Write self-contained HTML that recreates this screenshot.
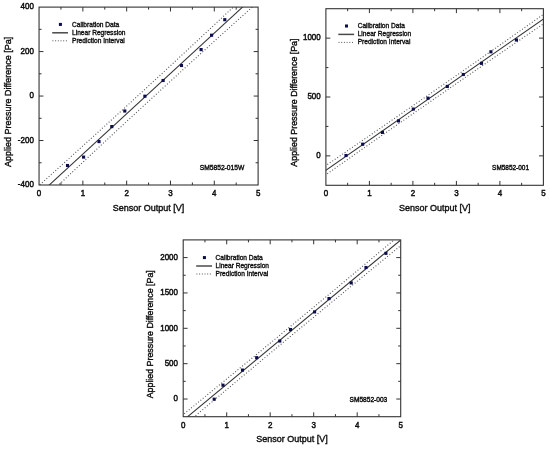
<!DOCTYPE html>
<html><head><meta charset="utf-8"><style>
html,body{margin:0;padding:0;background:#fff;}
svg{display:block;}
text{font-family:"Liberation Sans", Arial, Helvetica, sans-serif;fill:#111;stroke:#111;stroke-width:0.3px;}
.ax{stroke-width:0.4px;}
.lg{stroke-width:0.35px;}
.nm{stroke-width:0.4px;}
.tk{stroke-width:0.45px;}
</style></head><body>
<svg width="550" height="449" viewBox="0 0 550 449">
<defs><filter id="soft" filterUnits="userSpaceOnUse" x="0" y="0" width="550" height="449"><feGaussianBlur stdDeviation="0.4"/></filter></defs>
<rect width="550" height="449" fill="#fff"/>
<g filter="url(#soft)">
<clipPath id="c0"><rect x="39.05" y="7.1" width="219.05" height="177.9"/></clipPath>
<g clip-path="url(#c0)">
<line x1="33.05" y1="199.93" x2="264.1" y2="-12.74" stroke="#333" stroke-width="1.05"/>
<polyline points="33.05,209.03 35.94,206.31 38.83,203.59 41.71,200.86 44.6,198.14 47.49,195.42 50.38,192.7 53.27,189.99 56.16,187.27 59.04,184.56 61.93,181.84 64.82,179.13 67.71,176.42 70.6,173.72 73.48,171.01 76.37,168.3 79.26,165.6 82.15,162.9 85.04,160.2 87.92,157.5 90.81,154.8 93.7,152.11 96.59,149.41 99.48,146.72 102.37,144.03 105.25,141.35 108.14,138.66 111.03,135.98 113.92,133.29 116.81,130.61 119.69,127.94 122.58,125.26 125.47,122.59 128.36,119.91 131.25,117.24 134.13,114.58 137.02,111.91 139.91,109.25 142.8,106.58 145.69,103.92 148.57,101.26 151.46,98.61 154.35,95.95 157.24,93.3 160.13,90.65 163.02,88 165.9,85.36 168.79,82.71 171.68,80.07 174.57,77.43 177.46,74.79 180.34,72.16 183.23,69.52 186.12,66.89 189.01,64.26 191.9,61.63 194.79,59.01 197.67,56.38 200.56,53.76 203.45,51.14 206.34,48.52 209.23,45.9 212.11,43.28 215,40.67 217.89,38.05 220.78,35.44 223.67,32.83 226.55,30.22 229.44,27.62 232.33,25.01 235.22,22.41 238.11,19.81 241,17.21 243.88,14.61 246.77,12.01 249.66,9.41 252.55,6.82 255.44,4.22 258.32,1.63 261.21,-0.96 264.1,-3.55" fill="none" stroke="#555" stroke-width="1.1" stroke-dasharray="1 2"/>
<polyline points="33.05,190.82 35.94,188.23 38.83,185.64 41.71,183.04 44.6,180.45 47.49,177.85 50.38,175.25 53.27,172.65 56.16,170.05 59.04,167.45 61.93,164.85 64.82,162.24 67.71,159.63 70.6,157.02 73.48,154.41 76.37,151.8 79.26,149.19 82.15,146.57 85.04,143.96 87.92,141.34 90.81,138.72 93.7,136.1 96.59,133.47 99.48,130.85 102.37,128.22 105.25,125.59 108.14,122.96 111.03,120.33 113.92,117.69 116.81,115.06 119.69,112.42 122.58,109.78 125.47,107.13 128.36,104.49 131.25,101.84 134.13,99.19 137.02,96.54 139.91,93.89 142.8,91.24 145.69,88.58 148.57,85.92 151.46,83.26 154.35,80.6 157.24,77.93 160.13,75.26 163.02,72.6 165.9,69.93 168.79,67.25 171.68,64.58 174.57,61.9 177.46,59.22 180.34,56.54 183.23,53.86 186.12,51.17 189.01,48.49 191.9,45.8 194.79,43.11 197.67,40.42 200.56,37.72 203.45,35.03 206.34,32.33 209.23,29.63 212.11,26.93 215,24.23 217.89,21.53 220.78,18.82 223.67,16.11 226.55,13.4 229.44,10.69 232.33,7.98 235.22,5.27 238.11,2.55 241,-0.16 243.88,-2.88 246.77,-5.6 249.66,-8.32 252.55,-11.04 255.44,-13.76 258.32,-16.49 261.21,-19.21 264.1,-21.94" fill="none" stroke="#555" stroke-width="1.1" stroke-dasharray="1 2"/>
</g>
<rect x="39.05" y="7.1" width="219.05" height="177.9" fill="none" stroke="#333" stroke-width="1.1"/>
<text transform="translate(39.05,196) scale(1,1.1)" text-anchor="middle" font-size="8" class="tk">0</text>
<line x1="60.95" y1="185" x2="60.95" y2="182.5" stroke="#333" stroke-width="1"/>
<line x1="60.95" y1="7.1" x2="60.95" y2="9.6" stroke="#333" stroke-width="1"/>
<line x1="82.86" y1="185" x2="82.86" y2="180.6" stroke="#333" stroke-width="1"/>
<line x1="82.86" y1="7.1" x2="82.86" y2="11.5" stroke="#333" stroke-width="1"/>
<text transform="translate(82.86,196) scale(1,1.1)" text-anchor="middle" font-size="8" class="tk">1</text>
<line x1="104.77" y1="185" x2="104.77" y2="182.5" stroke="#333" stroke-width="1"/>
<line x1="104.77" y1="7.1" x2="104.77" y2="9.6" stroke="#333" stroke-width="1"/>
<line x1="126.67" y1="185" x2="126.67" y2="180.6" stroke="#333" stroke-width="1"/>
<line x1="126.67" y1="7.1" x2="126.67" y2="11.5" stroke="#333" stroke-width="1"/>
<text transform="translate(126.67,196) scale(1,1.1)" text-anchor="middle" font-size="8" class="tk">2</text>
<line x1="148.57" y1="185" x2="148.57" y2="182.5" stroke="#333" stroke-width="1"/>
<line x1="148.57" y1="7.1" x2="148.57" y2="9.6" stroke="#333" stroke-width="1"/>
<line x1="170.48" y1="185" x2="170.48" y2="180.6" stroke="#333" stroke-width="1"/>
<line x1="170.48" y1="7.1" x2="170.48" y2="11.5" stroke="#333" stroke-width="1"/>
<text transform="translate(170.48,196) scale(1,1.1)" text-anchor="middle" font-size="8" class="tk">3</text>
<line x1="192.38" y1="185" x2="192.38" y2="182.5" stroke="#333" stroke-width="1"/>
<line x1="192.38" y1="7.1" x2="192.38" y2="9.6" stroke="#333" stroke-width="1"/>
<line x1="214.29" y1="185" x2="214.29" y2="180.6" stroke="#333" stroke-width="1"/>
<line x1="214.29" y1="7.1" x2="214.29" y2="11.5" stroke="#333" stroke-width="1"/>
<text transform="translate(214.29,196) scale(1,1.1)" text-anchor="middle" font-size="8" class="tk">4</text>
<line x1="236.19" y1="185" x2="236.19" y2="182.5" stroke="#333" stroke-width="1"/>
<line x1="236.19" y1="7.1" x2="236.19" y2="9.6" stroke="#333" stroke-width="1"/>
<text transform="translate(258.1,196) scale(1,1.1)" text-anchor="middle" font-size="8" class="tk">5</text>
<text transform="translate(33.85,187.3) scale(1,1.1)" text-anchor="end" font-size="8" class="tk">-400</text>
<line x1="39.05" y1="162.76" x2="41.55" y2="162.76" stroke="#333" stroke-width="1"/>
<line x1="258.1" y1="162.76" x2="255.6" y2="162.76" stroke="#333" stroke-width="1"/>
<line x1="39.05" y1="140.53" x2="43.45" y2="140.53" stroke="#333" stroke-width="1"/>
<line x1="258.1" y1="140.53" x2="253.7" y2="140.53" stroke="#333" stroke-width="1"/>
<text transform="translate(33.85,142.83) scale(1,1.1)" text-anchor="end" font-size="8" class="tk">-200</text>
<line x1="39.05" y1="118.29" x2="41.55" y2="118.29" stroke="#333" stroke-width="1"/>
<line x1="258.1" y1="118.29" x2="255.6" y2="118.29" stroke="#333" stroke-width="1"/>
<line x1="39.05" y1="96.05" x2="43.45" y2="96.05" stroke="#333" stroke-width="1"/>
<line x1="258.1" y1="96.05" x2="253.7" y2="96.05" stroke="#333" stroke-width="1"/>
<text transform="translate(33.85,98.35) scale(1,1.1)" text-anchor="end" font-size="8" class="tk">0</text>
<line x1="39.05" y1="73.81" x2="41.55" y2="73.81" stroke="#333" stroke-width="1"/>
<line x1="258.1" y1="73.81" x2="255.6" y2="73.81" stroke="#333" stroke-width="1"/>
<line x1="39.05" y1="51.57" x2="43.45" y2="51.57" stroke="#333" stroke-width="1"/>
<line x1="258.1" y1="51.57" x2="253.7" y2="51.57" stroke="#333" stroke-width="1"/>
<text transform="translate(33.85,53.87) scale(1,1.1)" text-anchor="end" font-size="8" class="tk">200</text>
<line x1="39.05" y1="29.34" x2="41.55" y2="29.34" stroke="#333" stroke-width="1"/>
<line x1="258.1" y1="29.34" x2="255.6" y2="29.34" stroke="#333" stroke-width="1"/>
<text transform="translate(33.85,9.4) scale(1,1.1)" text-anchor="end" font-size="8" class="tk">400</text>
<rect x="65.95" y="163.95" width="3.1" height="3.1" fill="#07074c"/>
<rect x="82.05" y="155.55" width="3.1" height="3.1" fill="#07074c"/>
<rect x="97.45" y="140.05" width="3.1" height="3.1" fill="#07074c"/>
<rect x="110.25" y="125.05" width="3.1" height="3.1" fill="#07074c"/>
<rect x="123.25" y="109.45" width="3.1" height="3.1" fill="#07074c"/>
<rect x="143.35" y="94.65" width="3.1" height="3.1" fill="#07074c"/>
<rect x="161.55" y="78.95" width="3.1" height="3.1" fill="#07074c"/>
<rect x="179.95" y="63.95" width="3.1" height="3.1" fill="#07074c"/>
<rect x="199.55" y="48.05" width="3.1" height="3.1" fill="#07074c"/>
<rect x="210.05" y="33.65" width="3.1" height="3.1" fill="#07074c"/>
<rect x="223.25" y="18.15" width="3.1" height="3.1" fill="#07074c"/>
<text transform="translate(148.58,210.9) scale(1,1.08)" text-anchor="middle" font-size="9" class="ax">Sensor Output [V]</text>
<text transform="rotate(-90)" x="-101.85" y="11.3" text-anchor="middle" font-size="9.0" class="ax">Applied Pressure Difference [Pa]</text>
<rect x="58.9" y="22.9" width="3" height="3" fill="#07074c"/>
<line x1="52.2" y1="32.8" x2="68" y2="32.8" stroke="#4a4a4a" stroke-width="1.5"/>
<line x1="52.4" y1="40.8" x2="67.6" y2="40.8" stroke="#555" stroke-width="1" stroke-dasharray="1 1.7"/>
<text x="72" y="26.8" font-size="6.6" class="lg">Calibration Data</text>
<text x="72" y="34.75" font-size="6.6" class="lg">Linear Regression</text>
<text x="72" y="42.7" font-size="6.6" class="lg">Prediction Interval</text>
<text x="199.7" y="169.7" font-size="6.7" class="nm">SM5852-015W</text>
<clipPath id="c1"><rect x="325.9" y="8.7" width="217.5" height="176.6"/></clipPath>
<g clip-path="url(#c1)">
<line x1="319.9" y1="174.31" x2="549.4" y2="14.97" stroke="#333" stroke-width="1.05"/>
<polyline points="319.9,179 322.77,176.98 325.64,174.95 328.51,172.93 331.38,170.91 334.24,168.89 337.11,166.87 339.98,164.84 342.85,162.83 345.72,160.81 348.59,158.79 351.46,156.77 354.32,154.76 357.19,152.74 360.06,150.72 362.93,148.71 365.8,146.7 368.67,144.68 371.54,142.67 374.41,140.66 377.27,138.65 380.14,136.64 383.01,134.64 385.88,132.63 388.75,130.62 391.62,128.62 394.49,126.61 397.36,124.61 400.22,122.61 403.09,120.61 405.96,118.61 408.83,116.61 411.7,114.61 414.57,112.61 417.44,110.61 420.31,108.62 423.17,106.62 426.04,104.63 428.91,102.64 431.78,100.64 434.65,98.65 437.52,96.66 440.39,94.68 443.26,92.69 446.12,90.7 448.99,88.72 451.86,86.73 454.73,84.75 457.6,82.76 460.47,80.78 463.34,78.8 466.21,76.82 469.07,74.84 471.94,72.87 474.81,70.89 477.68,68.91 480.55,66.94 483.42,64.96 486.29,62.99 489.16,61.02 492.02,59.04 494.89,57.07 497.76,55.1 500.63,53.13 503.5,51.17 506.37,49.2 509.24,47.23 512.11,45.27 514.97,43.3 517.84,41.34 520.71,39.37 523.58,37.41 526.45,35.45 529.32,33.48 532.19,31.52 535.06,29.56 537.92,27.6 540.79,25.64 543.66,23.69 546.53,21.73 549.4,19.77" fill="none" stroke="#555" stroke-width="1.1" stroke-dasharray="1 2"/>
<polyline points="319.9,169.61 322.77,167.65 325.64,165.69 328.51,163.73 331.38,161.77 334.24,159.81 337.11,157.84 339.98,155.88 342.85,153.92 345.72,151.95 348.59,149.99 351.46,148.02 354.32,146.05 357.19,144.09 360.06,142.12 362.93,140.15 365.8,138.18 368.67,136.21 371.54,134.23 374.41,132.26 377.27,130.29 380.14,128.31 383.01,126.34 385.88,124.36 388.75,122.38 391.62,120.41 394.49,118.43 397.36,116.45 400.22,114.47 403.09,112.48 405.96,110.5 408.83,108.52 411.7,106.53 414.57,104.55 417.44,102.56 420.31,100.57 423.17,98.58 426.04,96.59 428.91,94.6 431.78,92.61 434.65,90.62 437.52,88.62 440.39,86.63 443.26,84.63 446.12,82.64 448.99,80.64 451.86,78.64 454.73,76.64 457.6,74.64 460.47,72.64 463.34,70.63 466.21,68.63 469.07,66.63 471.94,64.62 474.81,62.61 477.68,60.61 480.55,58.6 483.42,56.59 486.29,54.58 489.16,52.57 492.02,50.56 494.89,48.55 497.76,46.53 500.63,44.52 503.5,42.5 506.37,40.49 509.24,38.47 512.11,36.45 514.97,34.43 517.84,32.42 520.71,30.4 523.58,28.38 526.45,26.35 529.32,24.33 532.19,22.31 535.06,20.29 537.92,18.26 540.79,16.24 543.66,14.21 546.53,12.19 549.4,10.16" fill="none" stroke="#555" stroke-width="1.1" stroke-dasharray="1 2"/>
</g>
<rect x="325.9" y="8.7" width="217.5" height="176.6" fill="none" stroke="#333" stroke-width="1.1"/>
<text transform="translate(325.9,196.3) scale(1,1.1)" text-anchor="middle" font-size="8" class="tk">0</text>
<line x1="347.65" y1="185.3" x2="347.65" y2="182.8" stroke="#333" stroke-width="1"/>
<line x1="347.65" y1="8.7" x2="347.65" y2="11.2" stroke="#333" stroke-width="1"/>
<line x1="369.4" y1="185.3" x2="369.4" y2="180.9" stroke="#333" stroke-width="1"/>
<line x1="369.4" y1="8.7" x2="369.4" y2="13.1" stroke="#333" stroke-width="1"/>
<text transform="translate(369.4,196.3) scale(1,1.1)" text-anchor="middle" font-size="8" class="tk">1</text>
<line x1="391.15" y1="185.3" x2="391.15" y2="182.8" stroke="#333" stroke-width="1"/>
<line x1="391.15" y1="8.7" x2="391.15" y2="11.2" stroke="#333" stroke-width="1"/>
<line x1="412.9" y1="185.3" x2="412.9" y2="180.9" stroke="#333" stroke-width="1"/>
<line x1="412.9" y1="8.7" x2="412.9" y2="13.1" stroke="#333" stroke-width="1"/>
<text transform="translate(412.9,196.3) scale(1,1.1)" text-anchor="middle" font-size="8" class="tk">2</text>
<line x1="434.65" y1="185.3" x2="434.65" y2="182.8" stroke="#333" stroke-width="1"/>
<line x1="434.65" y1="8.7" x2="434.65" y2="11.2" stroke="#333" stroke-width="1"/>
<line x1="456.4" y1="185.3" x2="456.4" y2="180.9" stroke="#333" stroke-width="1"/>
<line x1="456.4" y1="8.7" x2="456.4" y2="13.1" stroke="#333" stroke-width="1"/>
<text transform="translate(456.4,196.3) scale(1,1.1)" text-anchor="middle" font-size="8" class="tk">3</text>
<line x1="478.15" y1="185.3" x2="478.15" y2="182.8" stroke="#333" stroke-width="1"/>
<line x1="478.15" y1="8.7" x2="478.15" y2="11.2" stroke="#333" stroke-width="1"/>
<line x1="499.9" y1="185.3" x2="499.9" y2="180.9" stroke="#333" stroke-width="1"/>
<line x1="499.9" y1="8.7" x2="499.9" y2="13.1" stroke="#333" stroke-width="1"/>
<text transform="translate(499.9,196.3) scale(1,1.1)" text-anchor="middle" font-size="8" class="tk">4</text>
<line x1="521.65" y1="185.3" x2="521.65" y2="182.8" stroke="#333" stroke-width="1"/>
<line x1="521.65" y1="8.7" x2="521.65" y2="11.2" stroke="#333" stroke-width="1"/>
<text transform="translate(543.4,196.3) scale(1,1.1)" text-anchor="middle" font-size="8" class="tk">5</text>
<line x1="325.9" y1="155.87" x2="330.3" y2="155.87" stroke="#333" stroke-width="1"/>
<line x1="543.4" y1="155.87" x2="539" y2="155.87" stroke="#333" stroke-width="1"/>
<text transform="translate(320.7,158.17) scale(1,1.1)" text-anchor="end" font-size="8" class="tk">0</text>
<line x1="325.9" y1="126.43" x2="328.4" y2="126.43" stroke="#333" stroke-width="1"/>
<line x1="543.4" y1="126.43" x2="540.9" y2="126.43" stroke="#333" stroke-width="1"/>
<line x1="325.9" y1="97" x2="330.3" y2="97" stroke="#333" stroke-width="1"/>
<line x1="543.4" y1="97" x2="539" y2="97" stroke="#333" stroke-width="1"/>
<text transform="translate(320.7,99.3) scale(1,1.1)" text-anchor="end" font-size="8" class="tk">500</text>
<line x1="325.9" y1="67.57" x2="328.4" y2="67.57" stroke="#333" stroke-width="1"/>
<line x1="543.4" y1="67.57" x2="540.9" y2="67.57" stroke="#333" stroke-width="1"/>
<line x1="325.9" y1="38.13" x2="330.3" y2="38.13" stroke="#333" stroke-width="1"/>
<line x1="543.4" y1="38.13" x2="539" y2="38.13" stroke="#333" stroke-width="1"/>
<text transform="translate(320.7,40.43) scale(1,1.1)" text-anchor="end" font-size="8" class="tk">1000</text>
<rect x="344.45" y="153.95" width="3.1" height="3.1" fill="#07074c"/>
<rect x="361.15" y="142.65" width="3.1" height="3.1" fill="#07074c"/>
<rect x="380.85" y="130.85" width="3.1" height="3.1" fill="#07074c"/>
<rect x="396.95" y="119.35" width="3.1" height="3.1" fill="#07074c"/>
<rect x="411.75" y="107.55" width="3.1" height="3.1" fill="#07074c"/>
<rect x="426.45" y="96.65" width="3.1" height="3.1" fill="#07074c"/>
<rect x="445.75" y="84.85" width="3.1" height="3.1" fill="#07074c"/>
<rect x="461.75" y="72.95" width="3.1" height="3.1" fill="#07074c"/>
<rect x="479.95" y="61.75" width="3.1" height="3.1" fill="#07074c"/>
<rect x="489.35" y="50.25" width="3.1" height="3.1" fill="#07074c"/>
<rect x="514.85" y="38.45" width="3.1" height="3.1" fill="#07074c"/>
<text transform="translate(434.65,211.1) scale(1,1.08)" text-anchor="middle" font-size="9" class="ax">Sensor Output [V]</text>
<text transform="rotate(-90)" x="-102.6" y="296.6" text-anchor="middle" font-size="8.85" class="ax">Applied Pressure Difference [Pa]</text>
<rect x="345" y="24.5" width="3" height="3" fill="#07074c"/>
<line x1="338.3" y1="34.4" x2="354.1" y2="34.4" stroke="#4a4a4a" stroke-width="1.5"/>
<line x1="338.5" y1="42.4" x2="353.7" y2="42.4" stroke="#555" stroke-width="1" stroke-dasharray="1 1.7"/>
<text x="357.7" y="28.4" font-size="6.6" class="lg">Calibration Data</text>
<text x="357.7" y="36.35" font-size="6.6" class="lg">Linear Regression</text>
<text x="357.7" y="44.3" font-size="6.6" class="lg">Prediction Interval</text>
<text x="492.1" y="169.6" font-size="6.45" class="nm">SM5852-001</text>
<clipPath id="c2"><rect x="183.2" y="239.9" width="217.5" height="176.8"/></clipPath>
<g clip-path="url(#c2)">
<line x1="177.2" y1="425.34" x2="406.7" y2="234.99" stroke="#333" stroke-width="1.05"/>
<polyline points="177.2,431.2 180.07,428.78 182.94,426.36 185.81,423.95 188.67,421.53 191.54,419.12 194.41,416.7 197.28,414.29 200.15,411.88 203.02,409.46 205.89,407.05 208.76,404.64 211.62,402.23 214.49,399.83 217.36,397.42 220.23,395.01 223.1,392.6 225.97,390.2 228.84,387.8 231.71,385.39 234.57,382.99 237.44,380.59 240.31,378.19 243.18,375.79 246.05,373.39 248.92,370.99 251.79,368.6 254.66,366.2 257.52,363.81 260.39,361.41 263.26,359.02 266.13,356.63 269,354.24 271.87,351.85 274.74,349.46 277.61,347.08 280.48,344.69 283.34,342.31 286.21,339.92 289.08,337.54 291.95,335.16 294.82,332.78 297.69,330.4 300.56,328.02 303.42,325.65 306.29,323.27 309.16,320.9 312.03,318.52 314.9,316.15 317.77,313.78 320.64,311.41 323.51,309.04 326.38,306.67 329.24,304.3 332.11,301.94 334.98,299.57 337.85,297.21 340.72,294.84 343.59,292.48 346.46,290.12 349.32,287.76 352.19,285.4 355.06,283.04 357.93,280.69 360.8,278.33 363.67,275.98 366.54,273.62 369.41,271.27 372.27,268.92 375.14,266.57 378.01,264.21 380.88,261.86 383.75,259.52 386.62,257.17 389.49,254.82 392.36,252.47 395.23,250.13 398.09,247.78 400.96,245.44 403.83,243.1 406.7,240.75" fill="none" stroke="#555" stroke-width="1.1" stroke-dasharray="1 2"/>
<polyline points="177.2,419.47 180.07,417.13 182.94,414.79 185.81,412.45 188.67,410.1 191.54,407.76 194.41,405.42 197.28,403.07 200.15,400.73 203.02,398.38 205.89,396.03 208.76,393.68 211.62,391.33 214.49,388.98 217.36,386.63 220.23,384.28 223.1,381.93 225.97,379.57 228.84,377.22 231.71,374.86 234.57,372.51 237.44,370.15 240.31,367.79 243.18,365.43 246.05,363.07 248.92,360.71 251.79,358.35 254.66,355.99 257.52,353.62 260.39,351.26 263.26,348.89 266.13,346.52 269,344.15 271.87,341.78 274.74,339.41 277.61,337.04 280.48,334.67 283.34,332.29 286.21,329.92 289.08,327.54 291.95,325.17 294.82,322.79 297.69,320.41 300.56,318.03 303.42,315.65 306.29,313.26 309.16,310.88 312.03,308.49 314.9,306.11 317.77,303.72 320.64,301.33 323.51,298.94 326.38,296.55 329.24,294.16 332.11,291.77 334.98,289.38 337.85,286.98 340.72,284.58 343.59,282.19 346.46,279.79 349.32,277.39 352.19,274.99 355.06,272.59 357.93,270.19 360.8,267.79 363.67,265.38 366.54,262.98 369.41,260.57 372.27,258.17 375.14,255.76 378.01,253.35 380.88,250.94 383.75,248.53 386.62,246.12 389.49,243.71 392.36,241.3 395.23,238.89 398.09,236.47 400.96,234.06 403.83,231.64 406.7,229.23" fill="none" stroke="#555" stroke-width="1.1" stroke-dasharray="1 2"/>
</g>
<rect x="183.2" y="239.9" width="217.5" height="176.8" fill="none" stroke="#333" stroke-width="1.1"/>
<text transform="translate(183.2,427.7) scale(1,1.1)" text-anchor="middle" font-size="8" class="tk">0</text>
<line x1="204.95" y1="416.7" x2="204.95" y2="414.2" stroke="#333" stroke-width="1"/>
<line x1="204.95" y1="239.9" x2="204.95" y2="242.4" stroke="#333" stroke-width="1"/>
<line x1="226.7" y1="416.7" x2="226.7" y2="412.3" stroke="#333" stroke-width="1"/>
<line x1="226.7" y1="239.9" x2="226.7" y2="244.3" stroke="#333" stroke-width="1"/>
<text transform="translate(226.7,427.7) scale(1,1.1)" text-anchor="middle" font-size="8" class="tk">1</text>
<line x1="248.45" y1="416.7" x2="248.45" y2="414.2" stroke="#333" stroke-width="1"/>
<line x1="248.45" y1="239.9" x2="248.45" y2="242.4" stroke="#333" stroke-width="1"/>
<line x1="270.2" y1="416.7" x2="270.2" y2="412.3" stroke="#333" stroke-width="1"/>
<line x1="270.2" y1="239.9" x2="270.2" y2="244.3" stroke="#333" stroke-width="1"/>
<text transform="translate(270.2,427.7) scale(1,1.1)" text-anchor="middle" font-size="8" class="tk">2</text>
<line x1="291.95" y1="416.7" x2="291.95" y2="414.2" stroke="#333" stroke-width="1"/>
<line x1="291.95" y1="239.9" x2="291.95" y2="242.4" stroke="#333" stroke-width="1"/>
<line x1="313.7" y1="416.7" x2="313.7" y2="412.3" stroke="#333" stroke-width="1"/>
<line x1="313.7" y1="239.9" x2="313.7" y2="244.3" stroke="#333" stroke-width="1"/>
<text transform="translate(313.7,427.7) scale(1,1.1)" text-anchor="middle" font-size="8" class="tk">3</text>
<line x1="335.45" y1="416.7" x2="335.45" y2="414.2" stroke="#333" stroke-width="1"/>
<line x1="335.45" y1="239.9" x2="335.45" y2="242.4" stroke="#333" stroke-width="1"/>
<line x1="357.2" y1="416.7" x2="357.2" y2="412.3" stroke="#333" stroke-width="1"/>
<line x1="357.2" y1="239.9" x2="357.2" y2="244.3" stroke="#333" stroke-width="1"/>
<text transform="translate(357.2,427.7) scale(1,1.1)" text-anchor="middle" font-size="8" class="tk">4</text>
<line x1="378.95" y1="416.7" x2="378.95" y2="414.2" stroke="#333" stroke-width="1"/>
<line x1="378.95" y1="239.9" x2="378.95" y2="242.4" stroke="#333" stroke-width="1"/>
<text transform="translate(400.7,427.7) scale(1,1.1)" text-anchor="middle" font-size="8" class="tk">5</text>
<line x1="183.2" y1="399.02" x2="187.6" y2="399.02" stroke="#333" stroke-width="1"/>
<line x1="400.7" y1="399.02" x2="396.3" y2="399.02" stroke="#333" stroke-width="1"/>
<text transform="translate(178,401.32) scale(1,1.1)" text-anchor="end" font-size="8" class="tk">0</text>
<line x1="183.2" y1="381.34" x2="185.7" y2="381.34" stroke="#333" stroke-width="1"/>
<line x1="400.7" y1="381.34" x2="398.2" y2="381.34" stroke="#333" stroke-width="1"/>
<line x1="183.2" y1="363.66" x2="187.6" y2="363.66" stroke="#333" stroke-width="1"/>
<line x1="400.7" y1="363.66" x2="396.3" y2="363.66" stroke="#333" stroke-width="1"/>
<text transform="translate(178,365.96) scale(1,1.1)" text-anchor="end" font-size="8" class="tk">500</text>
<line x1="183.2" y1="345.98" x2="185.7" y2="345.98" stroke="#333" stroke-width="1"/>
<line x1="400.7" y1="345.98" x2="398.2" y2="345.98" stroke="#333" stroke-width="1"/>
<line x1="183.2" y1="328.3" x2="187.6" y2="328.3" stroke="#333" stroke-width="1"/>
<line x1="400.7" y1="328.3" x2="396.3" y2="328.3" stroke="#333" stroke-width="1"/>
<text transform="translate(178,330.6) scale(1,1.1)" text-anchor="end" font-size="8" class="tk">1000</text>
<line x1="183.2" y1="310.62" x2="185.7" y2="310.62" stroke="#333" stroke-width="1"/>
<line x1="400.7" y1="310.62" x2="398.2" y2="310.62" stroke="#333" stroke-width="1"/>
<line x1="183.2" y1="292.94" x2="187.6" y2="292.94" stroke="#333" stroke-width="1"/>
<line x1="400.7" y1="292.94" x2="396.3" y2="292.94" stroke="#333" stroke-width="1"/>
<text transform="translate(178,295.24) scale(1,1.1)" text-anchor="end" font-size="8" class="tk">1500</text>
<line x1="183.2" y1="275.26" x2="185.7" y2="275.26" stroke="#333" stroke-width="1"/>
<line x1="400.7" y1="275.26" x2="398.2" y2="275.26" stroke="#333" stroke-width="1"/>
<line x1="183.2" y1="257.58" x2="187.6" y2="257.58" stroke="#333" stroke-width="1"/>
<line x1="400.7" y1="257.58" x2="396.3" y2="257.58" stroke="#333" stroke-width="1"/>
<text transform="translate(178,259.88) scale(1,1.1)" text-anchor="end" font-size="8" class="tk">2000</text>
<rect x="212.65" y="397.65" width="3.1" height="3.1" fill="#07074c"/>
<rect x="221.45" y="383.65" width="3.1" height="3.1" fill="#07074c"/>
<rect x="240.95" y="368.55" width="3.1" height="3.1" fill="#07074c"/>
<rect x="255.15" y="356.15" width="3.1" height="3.1" fill="#07074c"/>
<rect x="278.25" y="339.45" width="3.1" height="3.1" fill="#07074c"/>
<rect x="288.95" y="328.05" width="3.1" height="3.1" fill="#07074c"/>
<rect x="313.05" y="310.35" width="3.1" height="3.1" fill="#07074c"/>
<rect x="327.45" y="297.05" width="3.1" height="3.1" fill="#07074c"/>
<rect x="349.65" y="281.35" width="3.1" height="3.1" fill="#07074c"/>
<rect x="364.45" y="265.95" width="3.1" height="3.1" fill="#07074c"/>
<rect x="384.35" y="251.75" width="3.1" height="3.1" fill="#07074c"/>
<text transform="translate(291.95,442) scale(1,1.08)" text-anchor="middle" font-size="9" class="ax">Sensor Output [V]</text>
<text transform="rotate(-90)" x="-334.3" y="153.2" text-anchor="middle" font-size="8.85" class="ax">Applied Pressure Difference [Pa]</text>
<rect x="202.9" y="256.1" width="3" height="3" fill="#07074c"/>
<line x1="196.2" y1="266" x2="212" y2="266" stroke="#4a4a4a" stroke-width="1.5"/>
<line x1="196.4" y1="274" x2="211.6" y2="274" stroke="#555" stroke-width="1" stroke-dasharray="1 1.7"/>
<text x="215.5" y="260" font-size="6.6" class="lg">Calibration Data</text>
<text x="215.5" y="267.95" font-size="6.6" class="lg">Linear Regression</text>
<text x="215.5" y="275.9" font-size="6.6" class="lg">Prediction Interval</text>
<text x="349.5" y="401.6" font-size="6.6" class="nm">SM5852-003</text>
</g>
</svg>
</body></html>
